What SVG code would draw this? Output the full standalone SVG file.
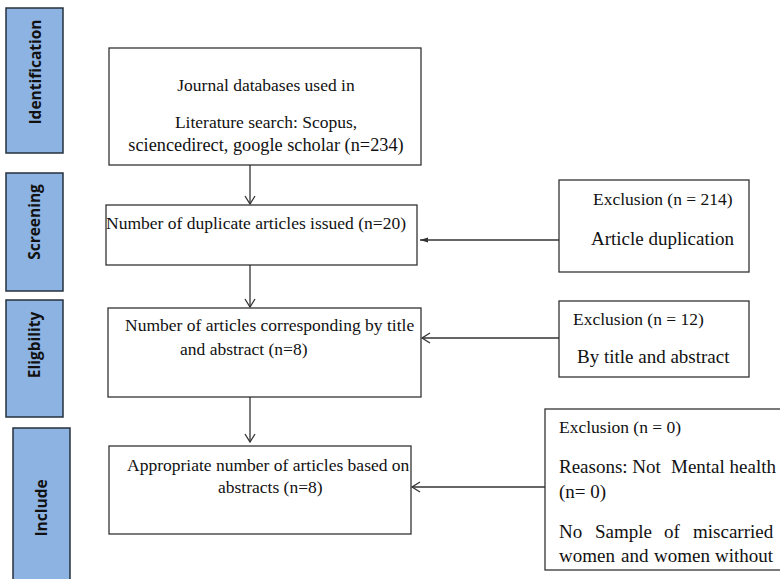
<svg xmlns="http://www.w3.org/2000/svg" width="780" height="579" viewBox="0 0 780 579">
<style>
.stage{fill:#8db3e2;stroke:#26303d;stroke-width:1.5}
.box{fill:#fff;stroke:#333;stroke-width:1.3}
.st{font-family:"Open Sans","Noto Sans",sans-serif;font-weight:bold;font-size:15.5px;fill:#111;text-anchor:middle}
.t{font-family:"Liberation Serif","Times New Roman",serif;font-size:17.5px;fill:#111}
.big{font-size:19px}
.c{text-anchor:middle}
.ln{stroke:#333;stroke-width:1.3;fill:none}
</style>
<defs>
<marker id="open" markerWidth="12" markerHeight="12" refX="10" refY="6" orient="auto" markerUnits="userSpaceOnUse">
<path d="M2,1 L10,6 L2,11" fill="none" stroke="#333" stroke-width="1.3"/>
</marker>
<marker id="fill" markerWidth="10" markerHeight="8" refX="8" refY="4" orient="auto" markerUnits="userSpaceOnUse">
<path d="M0,1.5 L8,4 L0,6.5 Z" fill="#333"/>
</marker>
</defs>
<rect width="780" height="579" fill="#fff"/>
<g id="stage-identification"><rect class="stage" x="6" y="8" width="57" height="145"/><text class="st" transform="translate(41,72) rotate(-90)">Identification</text></g>
<g id="stage-screening"><rect class="stage" x="6" y="173" width="57" height="118"/><text class="st" transform="translate(40,222) rotate(-90)">Screening</text></g>
<g id="stage-eligibility"><rect class="stage" x="6" y="300" width="57" height="117"/><text class="st" transform="translate(40,345) rotate(-90)">Eligbility</text></g>
<g id="stage-include"><rect class="stage" x="13" y="428" width="57" height="160"/><text class="st" transform="translate(47,508) rotate(-90)">Include</text></g>
<g id="box-identification"><rect class="box" x="109" y="48" width="312" height="117"/>
<text class="t c" x="266" y="91">Journal databases used in</text>
<text class="t c" x="266" y="128">Literature search: Scopus,</text>
<text class="t c" x="266" y="151" style="font-size:18.3px">sciencedirect, google scholar (n=234)</text></g>
<g id="box-screening"><rect class="box" x="106" y="205" width="311" height="60"/>
<text class="t" x="106" y="229">Number of duplicate articles issued (n=20)</text></g>
<g id="box-eligibility"><rect class="box" x="108" y="308" width="313" height="89"/>
<text class="t" x="125" y="331">Number of articles corresponding by title</text>
<text class="t" x="180" y="355">and abstract (n=8)</text></g>
<g id="box-include"><rect class="box" x="109" y="446" width="302" height="88"/>
<text class="t" x="127" y="471">Appropriate number of articles based on</text>
<text class="t" x="218" y="493">abstracts (n=8)</text></g>
<g id="excl-screening"><rect class="box" x="559" y="180" width="190" height="92"/>
<text class="t" x="593" y="205">Exclusion (n = 214)</text>
<text class="t big" x="591" y="245">Article duplication</text></g>
<g id="excl-eligibility"><rect class="box" x="559" y="301" width="190" height="76"/>
<text class="t" x="573" y="325">Exclusion (n = 12)</text>
<text class="t big" x="577" y="363">By title and abstract</text></g>
<g id="excl-include"><rect class="box" x="545" y="409" width="250" height="161"/>
<text class="t" x="559" y="433">Exclusion (n = 0)</text>
<text class="t big" y="473"><tspan x="559">Reasons: Not</tspan><tspan x="671">Mental health</tspan></text>
<text class="t big" x="559" y="498">(n= 0)</text>
<text class="t big" y="538"><tspan x="559">No</tspan><tspan x="595">Sample</tspan><tspan x="664">of</tspan><tspan x="693">miscarried</tspan></text>
<text class="t big" y="562"><tspan x="559">women</tspan><tspan x="621">and</tspan><tspan x="654">women</tspan><tspan x="715">without</tspan></text></g>
<g id="connectors">
<line class="ln" x1="250" y1="165" x2="250" y2="204" marker-end="url(#open)"/>
<line class="ln" x1="250" y1="265" x2="250" y2="307" marker-end="url(#open)"/>
<line class="ln" x1="250" y1="397" x2="250" y2="442" marker-end="url(#open)"/>
<line class="ln" x1="559" y1="240" x2="420" y2="240" marker-end="url(#fill)"/>
<line class="ln" x1="559" y1="338" x2="422" y2="338" marker-end="url(#open)"/>
<line class="ln" x1="545" y1="487" x2="412" y2="487" marker-end="url(#open)"/>
</g>
</svg>
